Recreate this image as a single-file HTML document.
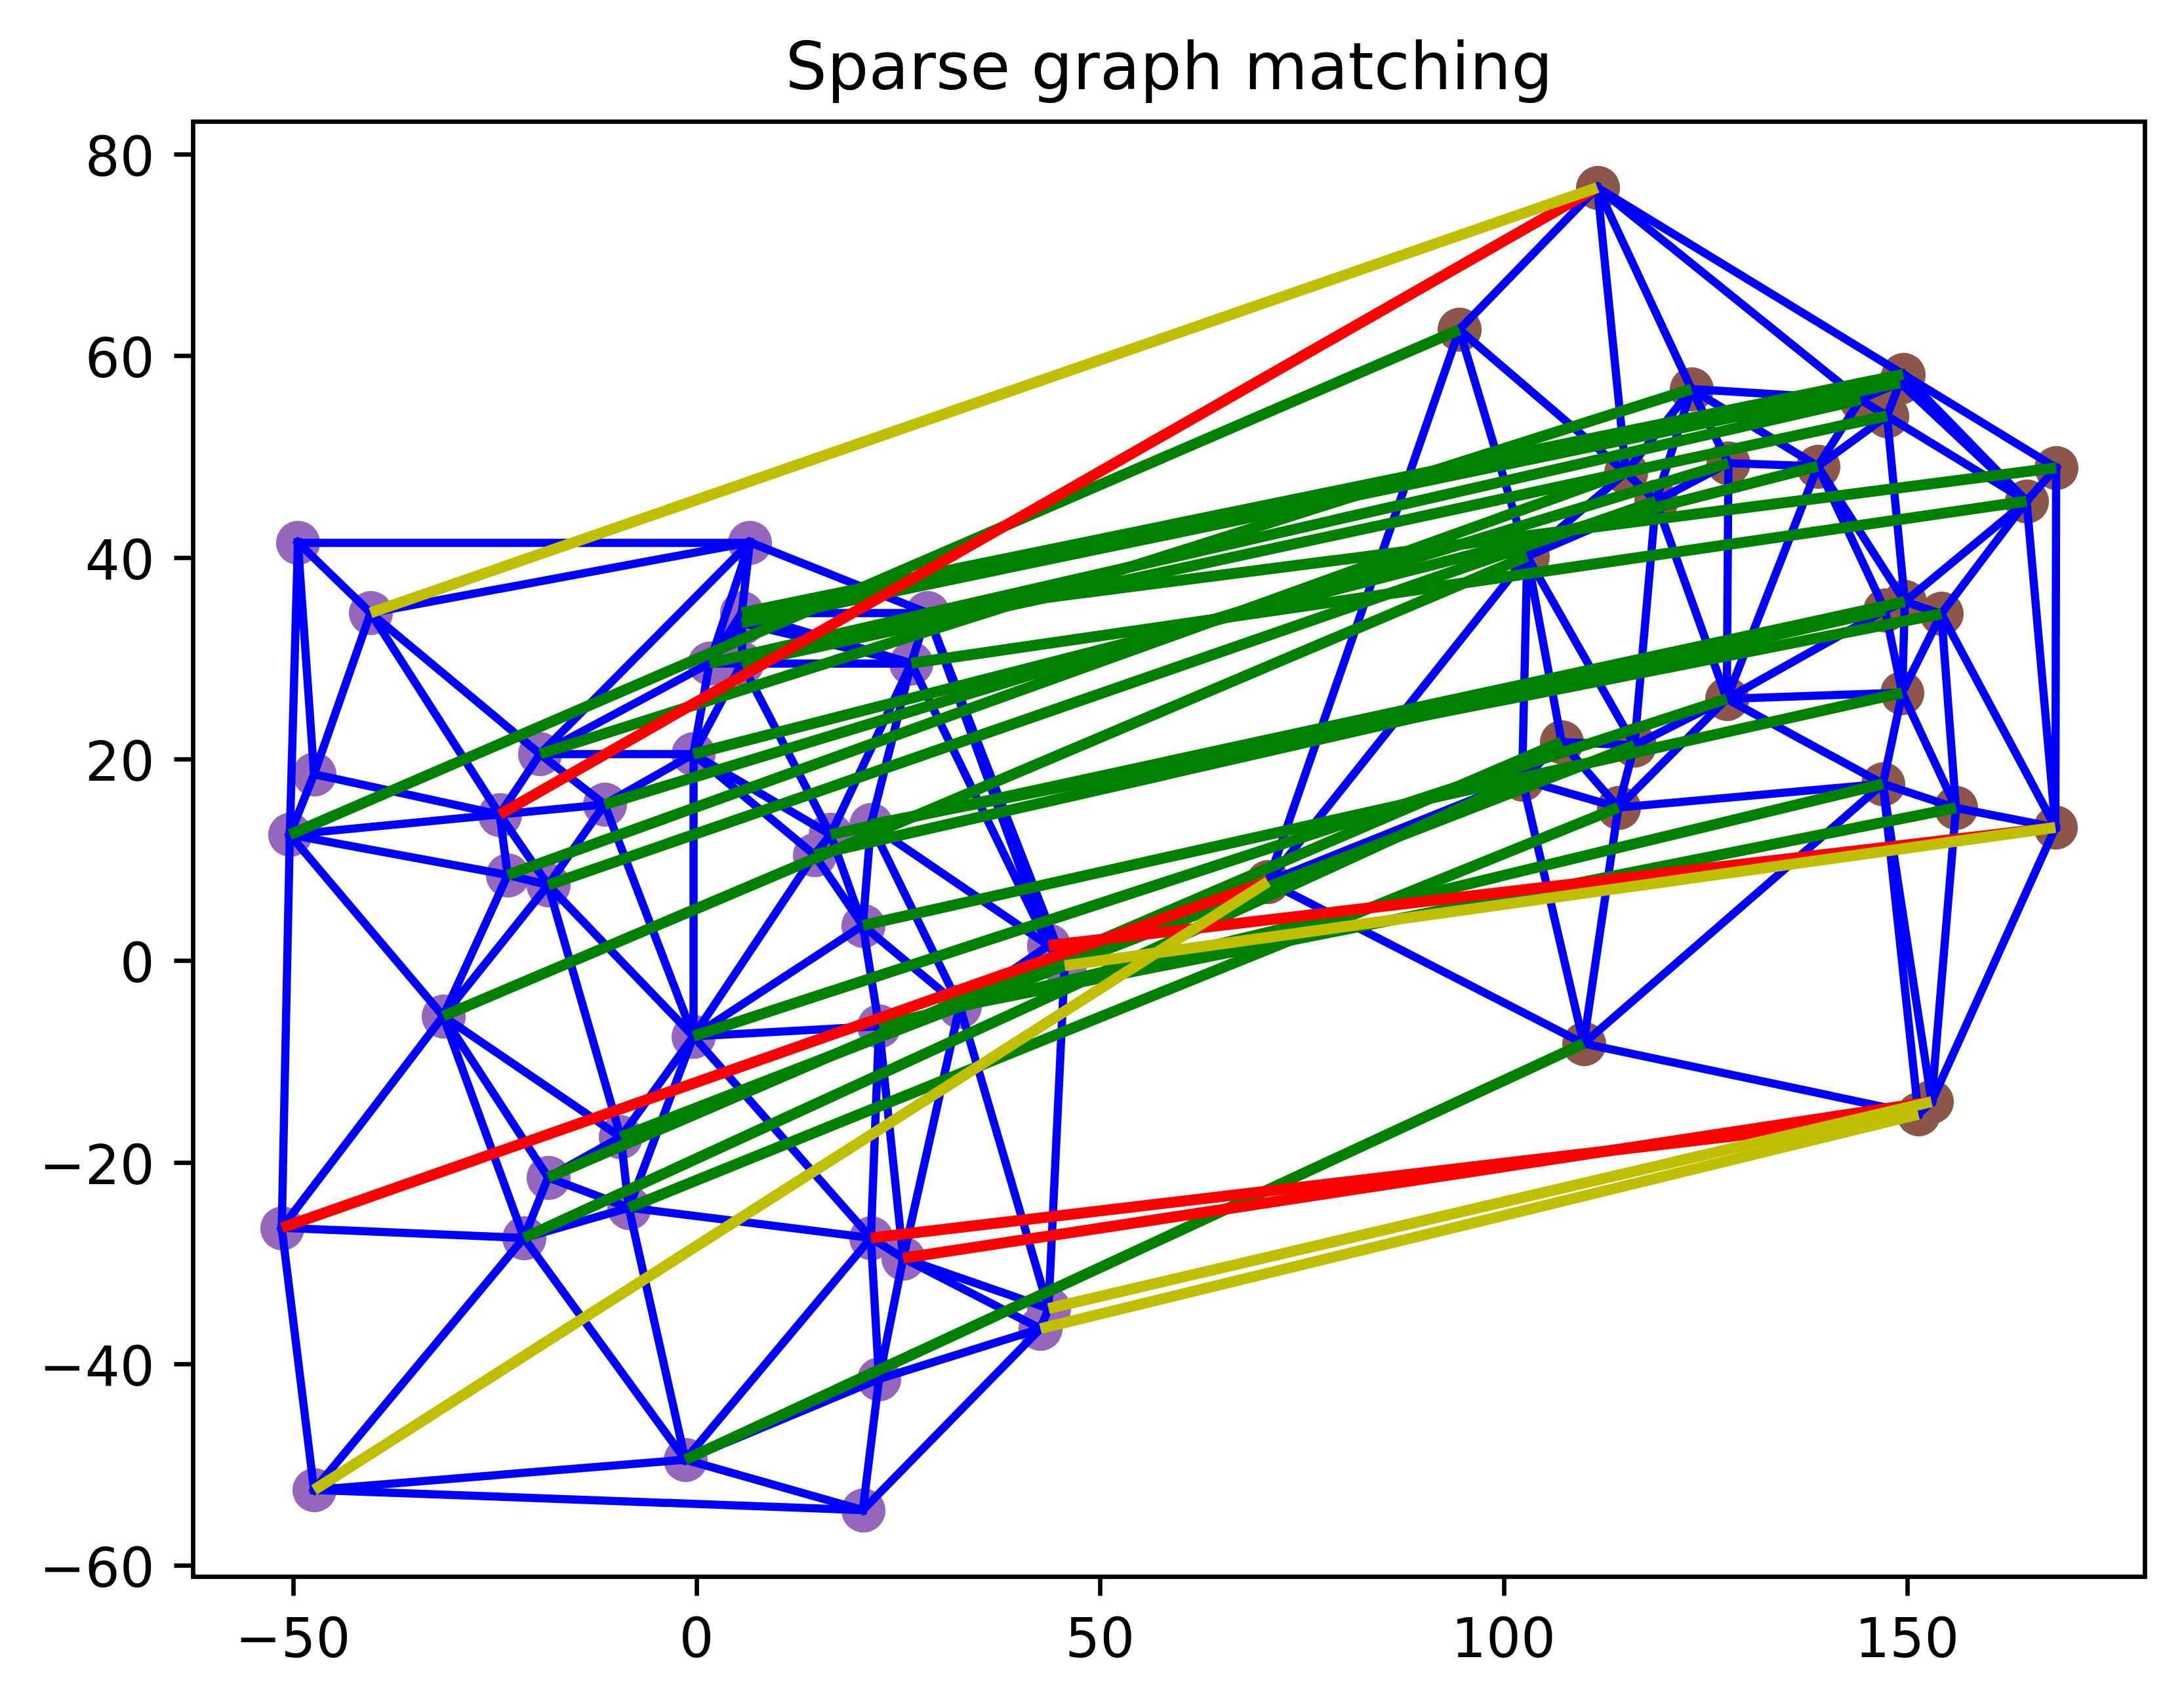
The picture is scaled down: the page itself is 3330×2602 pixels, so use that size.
<!DOCTYPE html>
<html lang="en"><head><meta charset="utf-8"><title>Sparse graph matching</title>
<style>html,body{margin:0;padding:0;background:#fff;}svg{display:block;}text{font-family:"DejaVu Sans","Liberation Sans",sans-serif;fill:#000;}.e{stroke:#0000ff;stroke-width:12.5;stroke-linecap:square;}.m{stroke-width:16.667;stroke-linecap:butt;}.g{stroke:#008000;}.r{stroke:#ff0000;}.y{stroke:#bfbf00;}.t{stroke:#000;stroke-width:6.667;stroke-linecap:butt;}.tl{font-size:83.333px;}.ti{font-size:100px;}</style></head><body>
<svg width="3330" height="2602" viewBox="0 0 3330 2602" role="img" aria-label="Sparse graph matching">
<rect x="0" y="0" width="3330" height="2602" fill="#ffffff"/>
<defs><clipPath id="axclip"><rect x="294.33" y="185.07" width="2976" height="2217.6"/></clipPath></defs>
<g clip-path="url(#axclip)">
<g id="graph1-nodes" fill="#9467bd">
<circle cx="454.5" cy="827.5" r="33.63"/>
<circle cx="565.5" cy="934.5" r="33.63"/>
<circle cx="479.5" cy="1180.5" r="33.63"/>
<circle cx="823.5" cy="1149.5" r="33.63"/>
<circle cx="762.5" cy="1242.5" r="33.63"/>
<circle cx="922.5" cy="1226.5" r="33.63"/>
<circle cx="442.5" cy="1272.5" r="33.63"/>
<circle cx="1143.5" cy="827.5" r="33.63"/>
<circle cx="1131.5" cy="934.5" r="33.63"/>
<circle cx="1131.5" cy="950.5" r="33.63"/>
<circle cx="1414.5" cy="934.5" r="33.63"/>
<circle cx="1082.5" cy="1011.5" r="33.63"/>
<circle cx="1131.5" cy="1011.5" r="33.63"/>
<circle cx="1389.5" cy="1011.5" r="33.63"/>
<circle cx="1057.5" cy="1149.5" r="33.63"/>
<circle cx="1266.5" cy="1272.5" r="33.63"/>
<circle cx="1328.5" cy="1257.5" r="33.63"/>
<circle cx="774.5" cy="1334.5" r="33.63"/>
<circle cx="836.5" cy="1349.5" r="33.63"/>
<circle cx="676.5" cy="1549.5" r="33.63"/>
<circle cx="1242.5" cy="1303.5" r="33.63"/>
<circle cx="1316.5" cy="1411.5" r="33.63"/>
<circle cx="1599.5" cy="1441.5" r="33.63"/>
<circle cx="1623.5" cy="1472.5" r="33.63"/>
<circle cx="1057.5" cy="1580.5" r="33.63"/>
<circle cx="1340.5" cy="1564.5" r="33.63"/>
<circle cx="1463.5" cy="1534.5" r="33.63"/>
<circle cx="430.5" cy="1872.5" r="33.63"/>
<circle cx="799.5" cy="1887.5" r="33.63"/>
<circle cx="836.5" cy="1795.5" r="33.63"/>
<circle cx="946.5" cy="1733.5" r="33.63"/>
<circle cx="959.5" cy="1841.5" r="33.63"/>
<circle cx="1328.5" cy="1887.5" r="33.63"/>
<circle cx="1377.5" cy="1918.5" r="33.63"/>
<circle cx="1599.5" cy="1995.5" r="33.63"/>
<circle cx="1586.5" cy="2025.5" r="33.63"/>
<circle cx="479.5" cy="2271.5" r="33.63"/>
<circle cx="1045.5" cy="2225.5" r="33.63"/>
<circle cx="1340.5" cy="2102.5" r="33.63"/>
<circle cx="1316.5" cy="2302.5" r="33.63"/>
</g><g id="graph2-nodes" fill="#8c564b">
<circle cx="2436.5" cy="286.5" r="33.63"/>
<circle cx="1933.5" cy="1344.5" r="33.63"/>
<circle cx="3134.5" cy="1261.5" r="33.63"/>
<circle cx="2945.5" cy="1679.5" r="33.63"/>
<circle cx="2925.5" cy="1698.5" r="33.63"/>
<circle cx="2579.5" cy="593.5" r="33.63"/>
<circle cx="2635.5" cy="706.5" r="33.63"/>
<circle cx="2225.5" cy="502.5" r="33.63"/>
<circle cx="2902.5" cy="571.5" r="33.63"/>
<circle cx="3135.5" cy="713.5" r="33.63"/>
<circle cx="2837.5" cy="609.5" r="33.63"/>
<circle cx="2877.5" cy="634.5" r="33.63"/>
<circle cx="3090.5" cy="764.5" r="33.63"/>
<circle cx="2772.5" cy="711.5" r="33.63"/>
<circle cx="2904.5" cy="917.5" r="33.63"/>
<circle cx="2960.5" cy="935.5" r="33.63"/>
<circle cx="2479.5" cy="720.5" r="33.63"/>
<circle cx="2525.5" cy="764.5" r="33.63"/>
<circle cx="2329.5" cy="848.5" r="33.63"/>
<circle cx="2874.5" cy="930.5" r="33.63"/>
<circle cx="2900.5" cy="1056.5" r="33.63"/>
<circle cx="2633.5" cy="1065.5" r="33.63"/>
<circle cx="2871.5" cy="1195.5" r="33.63"/>
<circle cx="2982.5" cy="1231.5" r="33.63"/>
<circle cx="2321.5" cy="1188.5" r="33.63"/>
<circle cx="2381.5" cy="1131.5" r="33.63"/>
<circle cx="2492.5" cy="1136.5" r="33.63"/>
<circle cx="2468.5" cy="1231.5" r="33.63"/>
<circle cx="2415.5" cy="1591.5" r="33.63"/>
<circle cx="2897.5" cy="583.5" r="33.63"/>
</g>
<g id="graph-edges">
<line class="e" x1="454.22" y1="826.67" x2="564.97" y2="934.23"/>
<line class="e" x1="454.22" y1="826.67" x2="478.83" y2="1180.1"/>
<line class="e" x1="454.22" y1="826.67" x2="441.91" y2="1272.3"/>
<line class="e" x1="454.22" y1="827.5" x2="1143.32" y2="827.5"/>
<line class="e" x1="564.97" y1="934.23" x2="478.83" y2="1180.1"/>
<line class="e" x1="564.97" y1="934.23" x2="823.38" y2="1149.37"/>
<line class="e" x1="564.97" y1="934.23" x2="761.85" y2="1241.57"/>
<line class="e" x1="564.97" y1="934.23" x2="1143.32" y2="826.67"/>
<line class="e" x1="478.83" y1="1180.1" x2="761.85" y2="1241.57"/>
<line class="e" x1="478.83" y1="1180.1" x2="441.91" y2="1272.3"/>
<line class="e" x1="823.38" y1="1149.37" x2="761.85" y2="1241.57"/>
<line class="e" x1="823.38" y1="1149.37" x2="921.82" y2="1226.2"/>
<line class="e" x1="823.38" y1="1149.37" x2="1143.32" y2="826.67"/>
<line class="e" x1="823.38" y1="1149.37" x2="1081.8" y2="1011.07"/>
<line class="e" x1="823.38" y1="1149.5" x2="1057.18" y2="1149.5"/>
<line class="e" x1="761.85" y1="1241.57" x2="921.82" y2="1226.2"/>
<line class="e" x1="761.85" y1="1241.57" x2="441.91" y2="1272.3"/>
<line class="e" x1="761.85" y1="1241.57" x2="774.16" y2="1333.77"/>
<line class="e" x1="761.85" y1="1241.57" x2="835.69" y2="1349.13"/>
<line class="e" x1="921.82" y1="1226.2" x2="1057.18" y2="1149.37"/>
<line class="e" x1="921.82" y1="1226.2" x2="835.69" y2="1349.13"/>
<line class="e" x1="921.82" y1="1226.2" x2="1057.18" y2="1579.63"/>
<line class="e" x1="441.91" y1="1272.3" x2="774.16" y2="1333.77"/>
<line class="e" x1="441.91" y1="1272.3" x2="675.72" y2="1548.9"/>
<line class="e" x1="441.91" y1="1272.3" x2="429.61" y2="1871.6"/>
<line class="e" x1="1143.32" y1="826.67" x2="1131.02" y2="934.23"/>
<line class="e" x1="1143.32" y1="826.67" x2="1414.04" y2="934.23"/>
<line class="e" x1="1143.32" y1="826.67" x2="1081.8" y2="1011.07"/>
<line class="e" x1="1131.5" y1="934.23" x2="1131.5" y2="949.6"/>
<line class="e" x1="1131.02" y1="934.5" x2="1414.04" y2="934.5"/>
<line class="e" x1="1131.02" y1="934.23" x2="1081.8" y2="1011.07"/>
<line class="e" x1="1131.02" y1="934.23" x2="1389.43" y2="1011.07"/>
<line class="e" x1="1131.02" y1="949.6" x2="1081.8" y2="1011.07"/>
<line class="e" x1="1131.5" y1="949.6" x2="1131.5" y2="1011.07"/>
<line class="e" x1="1131.02" y1="949.6" x2="1389.43" y2="1011.07"/>
<line class="e" x1="1414.04" y1="934.23" x2="1389.43" y2="1011.07"/>
<line class="e" x1="1414.04" y1="934.23" x2="1598.63" y2="1441.33"/>
<line class="e" x1="1414.04" y1="934.23" x2="1623.24" y2="1472.07"/>
<line class="e" x1="1081.8" y1="1011.5" x2="1131.02" y2="1011.5"/>
<line class="e" x1="1081.8" y1="1011.07" x2="1057.18" y2="1149.37"/>
<line class="e" x1="1131.02" y1="1011.5" x2="1389.43" y2="1011.5"/>
<line class="e" x1="1131.02" y1="1011.07" x2="1057.18" y2="1149.37"/>
<line class="e" x1="1131.02" y1="1011.07" x2="1266.38" y2="1272.3"/>
<line class="e" x1="1389.43" y1="1011.07" x2="1266.38" y2="1272.3"/>
<line class="e" x1="1389.43" y1="1011.07" x2="1327.9" y2="1256.93"/>
<line class="e" x1="1389.43" y1="1011.07" x2="1598.63" y2="1441.33"/>
<line class="e" x1="1057.18" y1="1149.37" x2="1266.38" y2="1272.3"/>
<line class="e" x1="1057.18" y1="1149.37" x2="1241.77" y2="1303.03"/>
<line class="e" x1="1057.5" y1="1149.37" x2="1057.5" y2="1579.63"/>
<line class="e" x1="1266.38" y1="1272.3" x2="1327.9" y2="1256.93"/>
<line class="e" x1="1266.38" y1="1272.3" x2="1241.77" y2="1303.03"/>
<line class="e" x1="1266.38" y1="1272.3" x2="1315.6" y2="1410.6"/>
<line class="e" x1="1327.9" y1="1256.93" x2="1315.6" y2="1410.6"/>
<line class="e" x1="1327.9" y1="1256.93" x2="1598.63" y2="1441.33"/>
<line class="e" x1="1327.9" y1="1256.93" x2="1463.26" y2="1533.53"/>
<line class="e" x1="774.16" y1="1333.77" x2="835.69" y2="1349.13"/>
<line class="e" x1="774.16" y1="1333.77" x2="675.72" y2="1548.9"/>
<line class="e" x1="835.69" y1="1349.13" x2="675.72" y2="1548.9"/>
<line class="e" x1="835.69" y1="1349.13" x2="1057.18" y2="1579.63"/>
<line class="e" x1="835.69" y1="1349.13" x2="946.44" y2="1733.3"/>
<line class="e" x1="675.72" y1="1548.9" x2="429.61" y2="1871.6"/>
<line class="e" x1="675.72" y1="1548.9" x2="798.77" y2="1886.97"/>
<line class="e" x1="675.72" y1="1548.9" x2="835.69" y2="1794.77"/>
<line class="e" x1="675.72" y1="1548.9" x2="946.44" y2="1733.3"/>
<line class="e" x1="1241.77" y1="1303.03" x2="1315.6" y2="1410.6"/>
<line class="e" x1="1241.77" y1="1303.03" x2="1057.18" y2="1579.63"/>
<line class="e" x1="1315.6" y1="1410.6" x2="1057.18" y2="1579.63"/>
<line class="e" x1="1315.6" y1="1410.6" x2="1340.21" y2="1564.27"/>
<line class="e" x1="1315.6" y1="1410.6" x2="1463.26" y2="1533.53"/>
<line class="e" x1="1598.63" y1="1441.33" x2="1623.24" y2="1472.07"/>
<line class="e" x1="1598.63" y1="1441.33" x2="1463.26" y2="1533.53"/>
<line class="e" x1="1623.24" y1="1472.07" x2="1463.26" y2="1533.53"/>
<line class="e" x1="1623.24" y1="1472.07" x2="1598.63" y2="1994.53"/>
<line class="e" x1="1057.18" y1="1579.63" x2="1340.21" y2="1564.27"/>
<line class="e" x1="1057.18" y1="1579.63" x2="946.44" y2="1733.3"/>
<line class="e" x1="1057.18" y1="1579.63" x2="958.74" y2="1840.87"/>
<line class="e" x1="1057.18" y1="1579.63" x2="1327.9" y2="1886.97"/>
<line class="e" x1="1340.21" y1="1564.27" x2="1463.26" y2="1533.53"/>
<line class="e" x1="1340.21" y1="1564.27" x2="1327.9" y2="1886.97"/>
<line class="e" x1="1340.21" y1="1564.27" x2="1377.13" y2="1917.7"/>
<line class="e" x1="1463.26" y1="1533.53" x2="1377.13" y2="1917.7"/>
<line class="e" x1="1463.26" y1="1533.53" x2="1598.63" y2="1994.53"/>
<line class="e" x1="429.61" y1="1871.6" x2="798.77" y2="1886.97"/>
<line class="e" x1="429.61" y1="1871.6" x2="478.83" y2="2271.13"/>
<line class="e" x1="798.77" y1="1886.97" x2="835.69" y2="1794.77"/>
<line class="e" x1="798.77" y1="1886.97" x2="958.74" y2="1840.87"/>
<line class="e" x1="798.77" y1="1886.97" x2="478.83" y2="2271.13"/>
<line class="e" x1="798.77" y1="1886.97" x2="1044.88" y2="2225.03"/>
<line class="e" x1="835.69" y1="1794.77" x2="946.44" y2="1733.3"/>
<line class="e" x1="835.69" y1="1794.77" x2="958.74" y2="1840.87"/>
<line class="e" x1="946.44" y1="1733.3" x2="958.74" y2="1840.87"/>
<line class="e" x1="958.74" y1="1840.87" x2="1327.9" y2="1886.97"/>
<line class="e" x1="958.74" y1="1840.87" x2="1044.88" y2="2225.03"/>
<line class="e" x1="1327.9" y1="1886.97" x2="1377.13" y2="1917.7"/>
<line class="e" x1="1327.9" y1="1886.97" x2="1044.88" y2="2225.03"/>
<line class="e" x1="1327.9" y1="1886.97" x2="1340.21" y2="2102.1"/>
<line class="e" x1="1377.13" y1="1917.7" x2="1598.63" y2="1994.53"/>
<line class="e" x1="1377.13" y1="1917.7" x2="1586.32" y2="2025.27"/>
<line class="e" x1="1377.13" y1="1917.7" x2="1340.21" y2="2102.1"/>
<line class="e" x1="1598.63" y1="1994.53" x2="1586.32" y2="2025.27"/>
<line class="e" x1="1586.32" y1="2025.27" x2="1340.21" y2="2102.1"/>
<line class="e" x1="1586.32" y1="2025.27" x2="1315.6" y2="2301.87"/>
<line class="e" x1="478.83" y1="2271.13" x2="1044.88" y2="2225.03"/>
<line class="e" x1="478.83" y1="2271.13" x2="1315.6" y2="2301.87"/>
<line class="e" x1="1044.88" y1="2225.03" x2="1340.21" y2="2102.1"/>
<line class="e" x1="1044.88" y1="2225.03" x2="1315.6" y2="2301.87"/>
<line class="e" x1="1340.21" y1="2102.1" x2="1315.6" y2="2301.87"/>
<line class="e" x1="2435.55" y1="285.87" x2="2579.05" y2="593.09"/>
<line class="e" x1="2435.55" y1="285.87" x2="2225.12" y2="502.49"/>
<line class="e" x1="2435.55" y1="285.87" x2="2901.89" y2="570.59"/>
<line class="e" x1="2435.55" y1="285.87" x2="2836.56" y2="609.13"/>
<line class="e" x1="2435.55" y1="285.87" x2="2479.02" y2="720.25"/>
<line class="e" x1="1933.36" y1="1343.94" x2="2225.12" y2="502.49"/>
<line class="e" x1="1933.36" y1="1343.94" x2="2328.52" y2="847.97"/>
<line class="e" x1="1933.36" y1="1343.94" x2="2320.86" y2="1188.38"/>
<line class="e" x1="1933.36" y1="1343.94" x2="2414.57" y2="1590.69"/>
<line class="e" x1="3133.92" y1="1261.27" x2="2945.12" y2="1679.33"/>
<line class="e" x1="3133.92" y1="1261.27" x2="3135.06" y2="712.96"/>
<line class="e" x1="3133.92" y1="1261.27" x2="3090" y2="763.88"/>
<line class="e" x1="3133.92" y1="1261.27" x2="2960.01" y2="935.48"/>
<line class="e" x1="3133.92" y1="1261.27" x2="2982.3" y2="1231.45"/>
<line class="e" x1="2945.12" y1="1679.33" x2="2925.07" y2="1698.46"/>
<line class="e" x1="2945.12" y1="1679.33" x2="2871.01" y2="1194.87"/>
<line class="e" x1="2945.12" y1="1679.33" x2="2982.3" y2="1231.45"/>
<line class="e" x1="2925.07" y1="1698.46" x2="2871.01" y2="1194.87"/>
<line class="e" x1="2925.07" y1="1698.46" x2="2414.57" y2="1590.69"/>
<line class="e" x1="2579.05" y1="593.09" x2="2635.37" y2="705.9"/>
<line class="e" x1="2579.05" y1="593.09" x2="2836.56" y2="609.13"/>
<line class="e" x1="2579.05" y1="593.09" x2="2771.67" y2="710.69"/>
<line class="e" x1="2579.05" y1="593.09" x2="2479.02" y2="720.25"/>
<line class="e" x1="2579.05" y1="593.09" x2="2524.75" y2="763.86"/>
<line class="e" x1="2635.37" y1="705.9" x2="2771.67" y2="710.69"/>
<line class="e" x1="2635.37" y1="705.9" x2="2524.75" y2="763.86"/>
<line class="e" x1="2635.37" y1="705.9" x2="2632.88" y2="1065.17"/>
<line class="e" x1="2225.12" y1="502.49" x2="2479.02" y2="720.25"/>
<line class="e" x1="2225.12" y1="502.49" x2="2328.52" y2="847.97"/>
<line class="e" x1="2901.89" y1="570.59" x2="3135.06" y2="712.96"/>
<line class="e" x1="2901.89" y1="570.59" x2="2836.56" y2="609.13"/>
<line class="e" x1="2901.89" y1="570.59" x2="3090" y2="763.88"/>
<line class="e" x1="2901.89" y1="570.59" x2="2896.93" y2="583.25"/>
<line class="e" x1="3135.06" y1="712.96" x2="3090" y2="763.88"/>
<line class="e" x1="2836.56" y1="609.13" x2="2877.11" y2="633.89"/>
<line class="e" x1="2836.56" y1="609.13" x2="2771.67" y2="710.69"/>
<line class="e" x1="2836.56" y1="609.13" x2="2896.93" y2="583.25"/>
<line class="e" x1="2877.11" y1="633.89" x2="3090" y2="763.88"/>
<line class="e" x1="2877.11" y1="633.89" x2="2771.67" y2="710.69"/>
<line class="e" x1="2877.11" y1="633.89" x2="2904.36" y2="917.2"/>
<line class="e" x1="2877.11" y1="633.89" x2="2896.93" y2="583.25"/>
<line class="e" x1="3090" y1="763.88" x2="2904.36" y2="917.2"/>
<line class="e" x1="3090" y1="763.88" x2="2960.01" y2="935.48"/>
<line class="e" x1="3090" y1="763.88" x2="2896.93" y2="583.25"/>
<line class="e" x1="2771.67" y1="710.69" x2="2904.36" y2="917.2"/>
<line class="e" x1="2771.67" y1="710.69" x2="2874.17" y2="930.14"/>
<line class="e" x1="2771.67" y1="710.69" x2="2632.88" y2="1065.17"/>
<line class="e" x1="2904.36" y1="917.2" x2="2960.01" y2="935.48"/>
<line class="e" x1="2904.36" y1="917.2" x2="2874.17" y2="930.14"/>
<line class="e" x1="2904.36" y1="917.2" x2="2900.3" y2="1055.89"/>
<line class="e" x1="2960.01" y1="935.48" x2="2900.3" y2="1055.89"/>
<line class="e" x1="2960.01" y1="935.48" x2="2982.3" y2="1231.45"/>
<line class="e" x1="2479.02" y1="720.25" x2="2524.75" y2="763.86"/>
<line class="e" x1="2479.02" y1="720.25" x2="2328.52" y2="847.97"/>
<line class="e" x1="2524.75" y1="763.86" x2="2328.52" y2="847.97"/>
<line class="e" x1="2524.75" y1="763.86" x2="2632.88" y2="1065.17"/>
<line class="e" x1="2524.75" y1="763.86" x2="2492.08" y2="1136.06"/>
<line class="e" x1="2328.52" y1="847.97" x2="2320.86" y2="1188.38"/>
<line class="e" x1="2328.52" y1="847.97" x2="2381.01" y2="1130.99"/>
<line class="e" x1="2328.52" y1="847.97" x2="2492.08" y2="1136.06"/>
<line class="e" x1="2874.17" y1="930.14" x2="2900.3" y2="1055.89"/>
<line class="e" x1="2874.17" y1="930.14" x2="2632.88" y2="1065.17"/>
<line class="e" x1="2900.3" y1="1055.89" x2="2632.88" y2="1065.17"/>
<line class="e" x1="2900.3" y1="1055.89" x2="2871.01" y2="1194.87"/>
<line class="e" x1="2900.3" y1="1055.89" x2="2982.3" y2="1231.45"/>
<line class="e" x1="2632.88" y1="1065.17" x2="2871.01" y2="1194.87"/>
<line class="e" x1="2632.88" y1="1065.17" x2="2492.08" y2="1136.06"/>
<line class="e" x1="2632.88" y1="1065.17" x2="2467.52" y2="1230.87"/>
<line class="e" x1="2871.01" y1="1194.87" x2="2982.3" y2="1231.45"/>
<line class="e" x1="2871.01" y1="1194.87" x2="2467.52" y2="1230.87"/>
<line class="e" x1="2871.01" y1="1194.87" x2="2414.57" y2="1590.69"/>
<line class="e" x1="2320.86" y1="1188.38" x2="2381.01" y2="1130.99"/>
<line class="e" x1="2320.86" y1="1188.38" x2="2467.52" y2="1230.87"/>
<line class="e" x1="2320.86" y1="1188.38" x2="2414.57" y2="1590.69"/>
<line class="e" x1="2381.01" y1="1130.99" x2="2492.08" y2="1136.06"/>
<line class="e" x1="2381.01" y1="1130.99" x2="2467.52" y2="1230.87"/>
<line class="e" x1="2492.08" y1="1136.06" x2="2467.52" y2="1230.87"/>
<line class="e" x1="2467.52" y1="1230.87" x2="2414.57" y2="1590.69"/>
</g><g id="matching-lines">
<line class="m g" x1="823.38" y1="1149.37" x2="2579.05" y2="593.09"/>
<line class="m g" x1="921.82" y1="1226.2" x2="2635.37" y2="705.9"/>
<line class="m g" x1="441.91" y1="1272.3" x2="2225.12" y2="502.49"/>
<line class="m g" x1="1131.02" y1="934.23" x2="2901.89" y2="570.59"/>
<line class="m g" x1="1414.04" y1="934.23" x2="3135.06" y2="712.96"/>
<line class="m g" x1="1081.8" y1="1011.07" x2="2836.56" y2="609.13"/>
<line class="m g" x1="1131.02" y1="1011.07" x2="2877.11" y2="633.89"/>
<line class="m g" x1="1389.43" y1="1011.07" x2="3090" y2="763.88"/>
<line class="m g" x1="1057.18" y1="1149.37" x2="2771.67" y2="710.69"/>
<line class="m g" x1="1266.38" y1="1272.3" x2="2904.36" y2="917.2"/>
<line class="m g" x1="1327.9" y1="1256.93" x2="2960.01" y2="935.48"/>
<line class="m g" x1="774.16" y1="1333.77" x2="2479.02" y2="720.25"/>
<line class="m g" x1="835.69" y1="1349.13" x2="2524.75" y2="763.86"/>
<line class="m g" x1="675.72" y1="1548.9" x2="2328.52" y2="847.97"/>
<line class="m g" x1="1241.77" y1="1303.03" x2="2874.17" y2="930.14"/>
<line class="m g" x1="1315.6" y1="1410.6" x2="2900.3" y2="1055.89"/>
<line class="m g" x1="1057.18" y1="1579.63" x2="2632.88" y2="1065.17"/>
<line class="m g" x1="1340.21" y1="1564.27" x2="2871.01" y2="1194.87"/>
<line class="m g" x1="1463.26" y1="1533.53" x2="2982.3" y2="1231.45"/>
<line class="m g" x1="798.77" y1="1886.97" x2="2320.86" y2="1188.38"/>
<line class="m g" x1="835.69" y1="1794.77" x2="2381.01" y2="1130.99"/>
<line class="m g" x1="946.44" y1="1733.3" x2="2492.08" y2="1136.06"/>
<line class="m g" x1="958.74" y1="1840.87" x2="2467.52" y2="1230.87"/>
<line class="m g" x1="1044.88" y1="2225.03" x2="2414.57" y2="1590.69"/>
<line class="m g" x1="1131.02" y1="949.6" x2="2896.93" y2="583.25"/>
<line class="m r" x1="761.85" y1="1241.57" x2="2435.55" y2="285.87"/>
<line class="m r" x1="1598.63" y1="1441.33" x2="3133.92" y2="1261.27"/>
<line class="m r" x1="429.61" y1="1871.6" x2="1933.36" y2="1343.94"/>
<line class="m r" x1="1327.9" y1="1886.97" x2="2925.07" y2="1698.46"/>
<line class="m r" x1="1377.13" y1="1917.7" x2="2945.12" y2="1679.33"/>
<line class="m y" x1="564.97" y1="934.23" x2="2435.55" y2="285.87"/>
<line class="m y" x1="1623.24" y1="1472.07" x2="3133.92" y2="1261.27"/>
<line class="m y" x1="478.83" y1="2271.13" x2="1933.36" y2="1343.94"/>
<line class="m y" x1="1598.63" y1="1994.53" x2="2945.12" y2="1679.33"/>
<line class="m y" x1="1586.32" y1="2025.27" x2="2925.07" y2="1698.46"/>
</g></g>
<g id="axis-ticks">
<line class="t" x1="447.5" y1="2403.5" x2="447.5" y2="2432.5"/>
<line class="t" x1="1062.5" y1="2403.5" x2="1062.5" y2="2432.5"/>
<line class="t" x1="1677.5" y1="2403.5" x2="1677.5" y2="2432.5"/>
<line class="t" x1="2293.5" y1="2403.5" x2="2293.5" y2="2432.5"/>
<line class="t" x1="2908.5" y1="2403.5" x2="2908.5" y2="2432.5"/>
<line class="t" x1="265.5" y1="2386.5" x2="294.5" y2="2386.5"/>
<line class="t" x1="265.5" y1="2079.5" x2="294.5" y2="2079.5"/>
<line class="t" x1="265.5" y1="1772.5" x2="294.5" y2="1772.5"/>
<line class="t" x1="265.5" y1="1464.5" x2="294.5" y2="1464.5"/>
<line class="t" x1="265.5" y1="1157.5" x2="294.5" y2="1157.5"/>
<line class="t" x1="265.5" y1="850.5" x2="294.5" y2="850.5"/>
<line class="t" x1="265.5" y1="542.5" x2="294.5" y2="542.5"/>
<line class="t" x1="265.5" y1="235.5" x2="294.5" y2="235.5"/>
</g>
<rect id="axes-frame" x="294.5" y="185.5" width="2976" height="2218" fill="none" stroke="#000" stroke-width="6.667" stroke-linejoin="miter"/>
<text class="tl" x="446.68" y="2526" text-anchor="middle">−50</text>
<text class="tl" x="1061.96" y="2526" text-anchor="middle">0</text>
<text class="tl" x="1677.23" y="2526" text-anchor="middle">50</text>
<text class="tl" x="2292.5" y="2526" text-anchor="middle">100</text>
<text class="tl" x="2907.78" y="2526" text-anchor="middle">150</text>
<text class="tl" x="235.8" y="2419.38" text-anchor="end">−60</text>
<text class="tl" x="235.8" y="2112.05" text-anchor="end">−40</text>
<text class="tl" x="235.8" y="1804.72" text-anchor="end">−20</text>
<text class="tl" x="235.8" y="1497.38" text-anchor="end">0</text>
<text class="tl" x="235.8" y="1190.05" text-anchor="end">20</text>
<text class="tl" x="235.8" y="882.72" text-anchor="end">40</text>
<text class="tl" x="235.8" y="575.38" text-anchor="end">60</text>
<text class="tl" x="235.8" y="268.05" text-anchor="end">80</text>
<text class="ti" x="1782.63" y="136" text-anchor="middle">Sparse graph matching</text>
</svg></body></html>
